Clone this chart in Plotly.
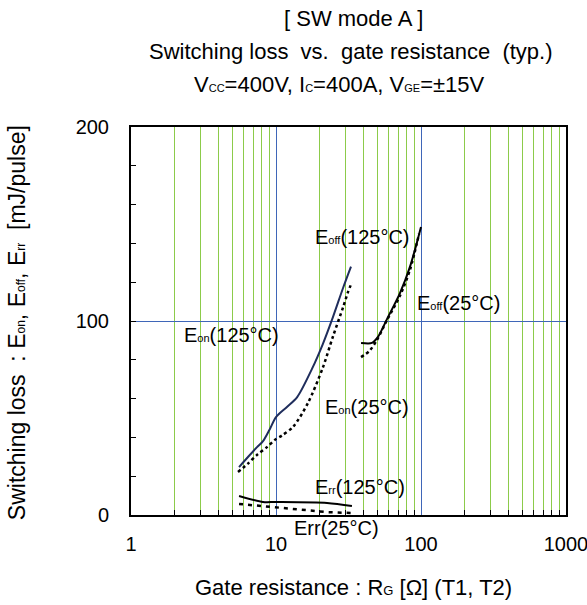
import numpy as np
import plotly.graph_objects as go

# ---- data ----
eon125_x = [5.56, 6.5, 7.4, 8.14, 9.0, 10.0, 11.9, 14.0, 17.7, 21.0, 24.7, 29.0, 32.9]
eon125_y = [24.7, 30.4, 35.0, 38.1, 43.8, 50.5, 55.7, 60.8, 75.3, 88.0, 102.0, 117.0, 128.0]

eon25_x = [5.47, 6.4, 7.4, 8.67, 9.8, 11.0, 13.1, 16.6, 21.0, 24.7, 29.0, 31.4, 33.4]
eon25_y = [22.2, 26.5, 31.0, 35.0, 38.7, 41.0, 45.4, 57.7, 75.8, 92.0, 107.0, 115.0, 120.0]

eoff125_x = [38.6, 45.9, 50.5, 59.2, 71.6, 84.0, 100.0]
eoff125_y = [88.7, 88.7, 91.8, 102.0, 114.4, 128.0, 148.5]

eoff25_x = [38.6, 44.0, 49.7, 58.3, 71.6, 84.0, 97.0]
eoff25_y = [81.4, 84.5, 90.2, 100.5, 113.0, 126.5, 145.0]

err125_x = [5.56, 8.14, 10.0, 22.5, 33.4]
err125_y = [9.8, 6.7, 6.7, 6.2, 4.6]

err25_x = [5.56, 10.0, 22.5, 33.4]
err25_y = [5.7, 4.1, 1.5, 1.0]

x_tickvals = [1, 10, 100, 1000]
x_ticktext = ["1", "10", "100", "1000"]
x_minor = [m * d for d in (1, 10, 100) for m in range(2, 10)]
y_tickvals = [0, 100, 200]
Y_MAX = 200

FONT = "Liberation Sans, Arial, sans-serif"
NAVY = "#1F2D5C"
GREEN = "#8CCB4A"
BLUE = "#3F66B8"


def sub(t, size=11):
    return f"<span style='font-size:{size}px'>{t}</span>"


fig = go.Figure()
fig.add_trace(go.Scatter(x=eon125_x, y=eon125_y, mode="lines",
                         line=dict(color=NAVY, width=2, shape="spline", smoothing=0.8)))
fig.add_trace(go.Scatter(x=eon25_x, y=eon25_y, mode="lines",
                         line=dict(color="black", width=2.5, dash="dot", shape="spline", smoothing=0.8)))
fig.add_trace(go.Scatter(x=eoff125_x, y=eoff125_y, mode="lines",
                         line=dict(color="black", width=2, shape="spline", smoothing=0.8)))
fig.add_trace(go.Scatter(x=eoff25_x, y=eoff25_y, mode="lines",
                         line=dict(color="black", width=2.5, dash="dot", shape="spline", smoothing=0.8)))
fig.add_trace(go.Scatter(x=err125_x, y=err125_y, mode="lines",
                         line=dict(color="black", width=2, shape="spline", smoothing=0.8)))
fig.add_trace(go.Scatter(x=err25_x, y=err25_y, mode="lines",
                         line=dict(color="black", width=2.5, dash="4px,5px")))

# curve labels (x in log10 units for log axis; y in paper fraction)
labels = [
    ("E" + sub("on") + "(125°C)", 2.247, 92.8),
    ("E" + sub("off") + "(125°C)", 17.99, 143.3),
    ("E" + sub("off") + "(25°C)", 90.9, 109.3),
    ("E" + sub("on") + "(25°C)", 21.1, 55.7),
    ("E" + sub("rr") + "(125°C)", 17.99, 14.4),
    ("Err(25°C)", 12.89, -6.7),
]
for txt, lx, ly in labels:
    fig.add_annotation(x=np.log10(lx), y=ly / Y_MAX, xref="x", yref="paper", text=txt,
                       showarrow=False, xanchor="left", yanchor="middle",
                       font=dict(family=FONT, size=20, color="black"))

# title lines
titles = [
    ("[ SW mode A ]", 0.347, 1.2796),
    ("Switching loss  vs.  gate resistance  (typ.)", 0.0368, 1.1933),
    ("V" + sub("CC") + "=400V, I" + sub("C") + "=400A, V" + sub("GE") + "=±15V", 0.1402, 1.1108),
]
for txt, tx, ty in titles:
    fig.add_annotation(x=tx, y=ty, xref="paper", yref="paper", text=txt,
                       showarrow=False, xanchor="left", yanchor="middle",
                       font=dict(family=FONT, size=22, color="black"))

# axis titles
fig.add_annotation(x=0.511, y=-0.188, xref="paper", yref="paper",
                   text="Gate resistance : R" + sub("G", 13) + " [Ω] (T1, T2)",
                   showarrow=False, xanchor="center", yanchor="middle",
                   font=dict(family=FONT, size=22, color="black"))
fig.add_annotation(x=-0.263, y=0.496, xref="paper", yref="paper",
                   text="Switching loss  : E" + sub("on", 12) + ", E" + sub("off", 12)
                   + ", E" + sub("rr", 12) + "  [mJ/pulse]",
                   textangle=-90, showarrow=False, xanchor="center", yanchor="middle",
                   font=dict(family=FONT, size=23, color="black"))

fig.update_xaxes(type="log", range=[0, 3], tickvals=x_tickvals, ticktext=x_ticktext,
                 ticks="", showgrid=True, gridcolor=BLUE, gridwidth=1.2,
                 showline=True, linecolor="black", linewidth=2, mirror=True,
                 tickfont=dict(family=FONT, size=20, color="black"),
                 ticklabelstandoff=10, ticklabeloverflow="allow", automargin=False,
                 minor=dict(tickvals=x_minor, showgrid=True, gridcolor=GREEN, gridwidth=1.3,
                            ticks="inside", ticklen=5, tickcolor="black"),
                 zeroline=False)
fig.update_yaxes(range=[0, Y_MAX], tickvals=y_tickvals, ticks="inside", ticklen=5,
                 tickcolor="black", showgrid=True, gridcolor=BLUE, gridwidth=1.2,
                 showline=True, linecolor="black", linewidth=2, mirror=True,
                 tickfont=dict(family=FONT, size=20, color="black"),
                 ticklabelstandoff=16, ticklabeloverflow="allow", automargin=False,
                 minor=dict(dtick=20, ticks="inside", ticklen=5, tickcolor="black", showgrid=False),
                 zeroline=False)

fig.update_layout(width=587, height=605, showlegend=False,
                  margin=dict(l=131, r=21, t=127, b=90, autoexpand=False),
                  plot_bgcolor="white", paper_bgcolor="white",
                  font=dict(family=FONT, color="black"))

fig.write_html("out.html")
